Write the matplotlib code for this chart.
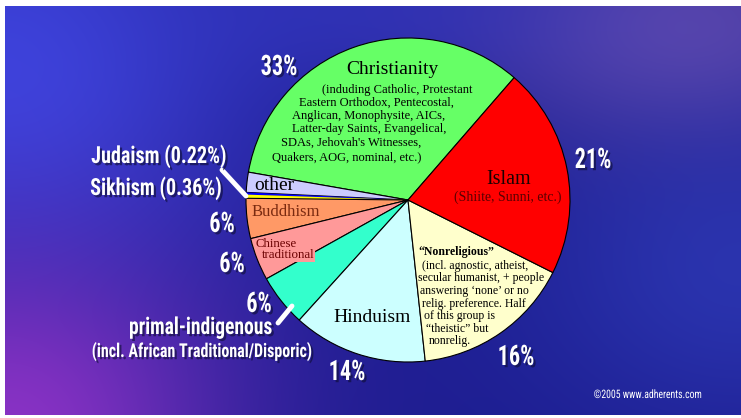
import numpy as np
import matplotlib
matplotlib.use("Agg")
import matplotlib.pyplot as plt
import matplotlib.patheffects as pe
from matplotlib import font_manager
from matplotlib.transforms import Affine2D

# ---------------- data ----------------
religions = ["Christianity", "other", "Judaism", "Sikhism", "Buddhism",
             "Chinese traditional", "primal-indigenous", "Hinduism",
             "Nonreligious", "Islam"]
slice_share = [33.6, 2.0, 0.22, 0.36, 4.0, 4.25, 5.2, 13.4, 15.9, 21.0]
slice_colors = ["#66ff66", "#ccccff", "#0000ff", "#ffff00", "#ff9966",
                "#ff9999", "#33ffcc", "#ccffff", "#ffffcc", "#ff0000"]
pct_labels = ["33%", "21%", "16%", "14%", "6%", "6%", "6%"]
christ_lines = ["(induding Catholic, Protestant", "Eastern Orthodox, Pentecostal,",
                "Anglican, Monophysite, AICs,", "Latter-day Saints, Evangelical,",
                "SDAs, Jehovah's Witnesses,", "Quakers, AOG, nominal, etc.)"]
nonrel_lines = ["(incl. agnostic, atheist,", "secular humanist, + people",
                "answering \u2018none\u2019 or no", "relig. preference. Half",
                "of this group is", "\u201ctheistic\u201d but", "nonrelig."]

W, H = 741, 418
fig = plt.figure(figsize=(W / 100, H / 100), dpi=100)
fig.patch.set_facecolor("white")

# ---------------- background ----------------
bg = fig.add_axes([5 / W, 3 / H, 736 / W, 409 / H])
bh, bw = 409, 736
yy, xx = np.mgrid[0:1:bh * 1j, 0:1:bw * 1j]
img = np.zeros((bh, bw, 3))
img[:] = np.array([0.11, 0.11, 0.56])
def blend(img, w, col):
    w = np.clip(w, 0, 1)[..., None]
    return img * (1 - w) + np.array(col) * w
img = blend(img, np.exp(-(((xx - 0.0) / 0.35) ** 2 + ((yy - 0.15) / 0.55) ** 2)), (0.24, 0.26, 0.86))
img = blend(img, np.exp(-(((xx - 0.0) / 0.30) ** 2 + ((yy - 1.05) / 0.45) ** 2)) * 0.95, (0.56, 0.20, 0.78))
img = blend(img, np.exp(-(((xx - 0.92) / 0.30) ** 2 + ((yy - 0.05) / 0.30) ** 2)) * 0.7, (0.46, 0.34, 0.70))
img = blend(img, np.exp(-(((xx - 1.0) / 0.30) ** 2 + ((yy - 0.65) / 0.40) ** 2)) * 0.6, (0.20, 0.26, 0.76))
img = blend(img, np.exp(-(((xx - 0.5) / 0.35) ** 2 + ((yy - 0.0) / 0.2) ** 2)) * 0.5, (0.22, 0.24, 0.80))
bg.imshow(img, extent=[0, 1, 0, 1], aspect="auto", origin="upper")
bg.set_axis_off()

# ---------------- main axes ----------------
ax = fig.add_axes([0, 0, 1, 1])
ax.patch.set_alpha(0)
def Y(y):
    return H - y

cx, cy, r = 408, 200, 162
wedges, _ = ax.pie(slice_share, colors=slice_colors, startangle=49.05,
                   counterclock=True, center=(cx, Y(cy)), radius=r,
                   wedgeprops=dict(edgecolor="black", linewidth=0.8))
for w, name in zip(wedges, religions):
    if name in ("Judaism", "Sikhism"):
        w.set_linewidth(0)
ax.set_xlim(0, W)
ax.set_ylim(0, H)
ax.set_aspect("auto")
ax.set_axis_off()

# fonts
names = {f.name for f in font_manager.fontManager.ttflist}
cond = None
for cand in ["Roboto Condensed", "Liberation Sans Narrow", "Open Sans Condensed"]:
    if cand in names:
        cond = cand
        break
pct_font = [cond, "DejaVu Sans"] if cond else ["Liberation Sans", "DejaVu Sans"]
serif = ["Liberation Serif", "DejaVu Serif"]


class VStretch(pe.AbstractPathEffect):
    """Draw text path stretched vertically (condensed poster look), optional shadow."""
    def __init__(self, sy, offset=(0, 0), color=None, alpha=1.0):
        super().__init__()
        self.sy = sy
        self.off = offset
        self.color = color
        self.alpha = alpha

    def draw_path(self, renderer, gc, tpath, affine, rgbFace=None):
        ox = renderer.points_to_pixels(self.off[0])
        oy = renderer.points_to_pixels(self.off[1])
        aff = Affine2D().scale(1, self.sy) + affine + Affine2D().translate(ox, oy)
        if self.color is not None:
            gc0 = renderer.new_gc()
            gc0.copy_properties(gc)
            gc0.set_foreground(self.color)
            gc0.set_alpha(self.alpha)
            gc0.set_linewidth(0)
            renderer.draw_path(gc0, tpath, aff, self.color)
            gc0.restore()
        else:
            renderer.draw_path(gc, tpath, aff, rgbFace)


def wtext(x, y, s, size, sy=1.25):
    effects = [VStretch(sy, offset=(1.6, -1.6), color=(0.05, 0.05, 0.2), alpha=0.6),
               VStretch(sy)]
    ax.text(x, Y(y), s, fontsize=size, color="white", family=pct_font, fontweight="bold",
            ha="center", va="baseline", path_effects=effects)

# percent labels (baseline positions)
pct_pos = [(279, 75), (593, 168), (516, 365), (347, 380), (222, 232), (232, 272), (259, 312)]
for (x, y), s in zip(pct_pos, pct_labels):
    wtext(x, y, s, 16, sy=1.27)

wtext(159, 163, "Judaism (0.22%)", 14.5, sy=1.17)
wtext(156, 195, "Sikhism (0.36%)", 14.5, sy=1.17)
wtext(201, 334, "primal-indigenous", 14.1, sy=1.2)
wtext(202, 357, "(incl. African Traditional/Disporic)", 11.5, sy=1.2)
ax.text(648, Y(395), "\u00a92005 www.adherents.com", fontsize=7, color="white",
        family=pct_font, ha="center", va="center",
        path_effects=[VStretch(1.2)])

# pointer lines
ax.plot([222, 246], [Y(170), Y(196)], color="white", lw=3.5, solid_capstyle="round")
ax.plot([278, 292], [Y(323), Y(306)], color="white", lw=3.5, solid_capstyle="round")

# slice text
ax.text(392, Y(70), "Christianity", fontsize=14, family=serif, ha="center", va="center")
christ_pos = [(397, 90), (376, 103), (369, 116), (369, 129), (351, 143), (347, 157)]
for (x, y), s in zip(christ_pos, christ_lines):
    ax.text(x, Y(y), s, fontsize=9, family=serif, ha="center", va="center")

ax.text(509, Y(180), "Islam", fontsize=14.5, family=serif, ha="center", va="center", color="#1a0000")
ax.text(508, Y(197), "(Shiite, Sunni, etc.)", fontsize=10, family=serif, ha="center",
        va="center", color="#5a0000")

ax.text(418, Y(252), "\u201cNonreligious\u201d", fontsize=8.5, family=serif, fontweight="bold",
        ha="left", va="center")
nonrel_x = [422, 418, 420, 422, 424, 426, 429]
nonrel_y = [266, 278.5, 291, 303.5, 316.5, 329, 341]
for x, y, s in zip(nonrel_x, nonrel_y, nonrel_lines):
    ax.text(x, Y(y), s, fontsize=8.5, family=serif, ha="left", va="center")

ax.text(372, Y(317), "Hinduism", fontsize=14, family=serif, ha="center", va="center")
ax.text(274, Y(185), "other", fontsize=14, family=serif, ha="center", va="center")
ax.text(286, Y(212), "Buddhism", fontsize=12, family=serif, ha="center", va="center", color="#7a2a10")
ax.text(276, Y(244), "Chinese", fontsize=9.2, family=serif, ha="center", va="center", color="#6a0000")
ax.text(288, Y(255), "traditional", fontsize=9.4, family=serif, ha="center", va="center", color="#6a0000",
        bbox=dict(facecolor="#ff9999", edgecolor="none", pad=0.5))

fig.savefig("out.png", dpi=100, facecolor="white")
